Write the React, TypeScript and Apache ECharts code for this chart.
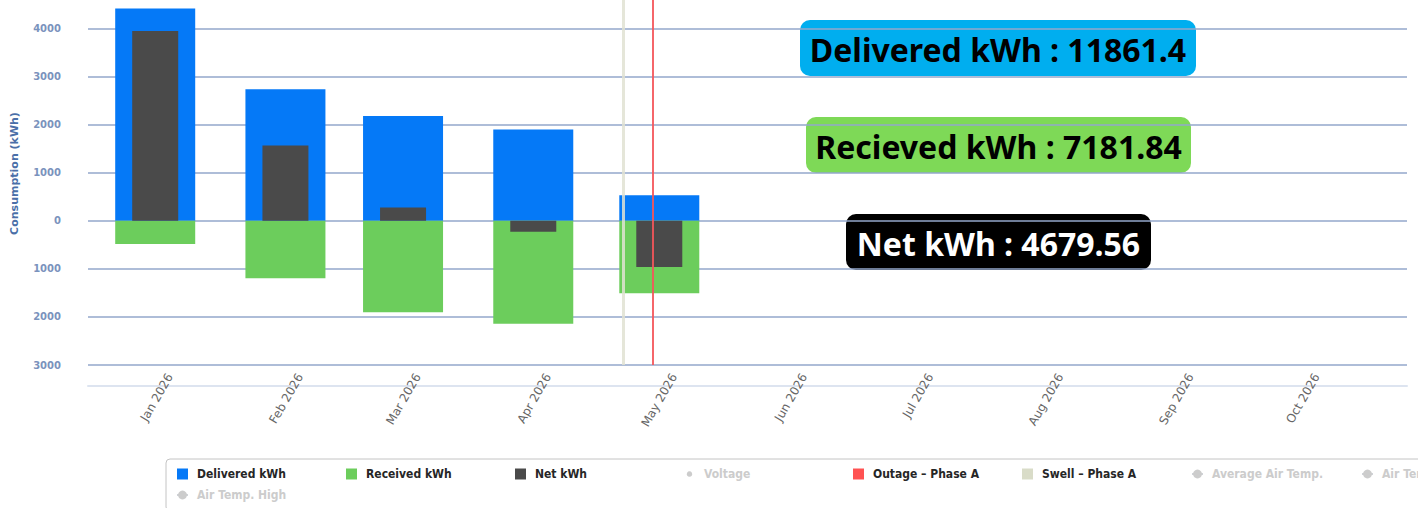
import React, { useEffect, useRef } from 'react';
import * as echarts from 'echarts';

// ---- data ----
const monthDates = ['2026-01-01', '2026-02-01', '2026-03-01', '2026-04-01', '2026-05-01'];
const deliveredKWh = [4413, 2732, 2178, 1896, 527];
const receivedKWh = [-483, -1197, -1902, -2143, -1506];
const netKWh = [3942, 1562, 276, -228, -961];

const outageDates = ['2026-04-29T08:00:00Z'];
const swellDates = ['2026-04-22T10:00:00Z'];

const xRange = ['2025-12-16', '2026-10-26'];
const DAY = 86400000;
const monthNames = ['Jan', 'Feb', 'Mar', 'Apr', 'May', 'Jun', 'Jul', 'Aug', 'Sep', 'Oct', 'Nov', 'Dec'];
const yMin = -3000;
const yMax = 4588;
const yInterval = 1000;

const legendNames = [
  'Delivered kWh',
  'Received kWh',
  'Net kWh',
  'Voltage',
  'Outage – Phase A',
  'Swell – Phase A',
  'Average Air Temp.',
  'Air Temp. Low',
  'Air Temp. High',
];
const hiddenSeries = ['Voltage', 'Average Air Temp.', 'Air Temp. Low', 'Air Temp. High'];

const summaryLabels = ['Delivered kWh', 'Recieved kWh', 'Net kWh'];
const summaryValues = ['11861.4', '7181.84', '4679.56'];

export default function App() {
  const ref = useRef<HTMLDivElement>(null);

  useEffect(() => {
    if (!ref.current) return;
    const chart = echarts.init(ref.current, null, { renderer: 'svg' });
    const t = (s: string) => new Date(s).getTime();

    const xMin = t(xRange[0]);
    const xMax = t(xRange[1]);

    const boxColors = ['#00aeef', '#7ed957', '#000000'];
    const textColors = ['#000000', '#000000', '#ffffff'];
    const boxRects = [
      { x: 800, y: 20, width: 396, height: 56 },
      { x: 806, y: 117, width: 385, height: 56 },
      { x: 846, y: 214, width: 305, height: 56 },
    ];

    const graphics = summaryLabels.map((lab, i) => ({
      type: 'group',
      silent: true,
      children: [
        {
          type: 'rect',
          shape: { ...boxRects[i], r: 10 },
          style: { fill: boxColors[i] },
        },
        {
          type: 'text',
          style: {
            text: `${lab} : ${summaryValues[i]}`,
            x: boxRects[i].x + boxRects[i].width / 2,
            y: boxRects[i].y + boxRects[i].height / 2 + 1,
            align: 'center',
            verticalAlign: 'middle',
            fontFamily: 'Noto Sans',
            fontWeight: 'bold',
            fontSize: 32,
            fill: textColors[i],
          },
        },
      ],
    }));

    const emptyLine = (name: string, color: string) => ({
      name,
      type: 'line',
      data: [],
      xAxisIndex: 0,
      color,
      symbol: 'circle',
    });

    const option: any = {
      animation: false,
      backgroundColor: '#ffffff',
      grid: { left: 88, right: 11, top: 0, bottom: 143, containLabel: false },
      xAxis: [
        {
          type: 'value',
          min: xMin,
          max: xMax,
          interval: DAY,
          position: 'bottom',
          scale: true,
          axisLine: { show: false, onZero: false },
          axisTick: { show: false },
          splitLine: { show: false },
          axisLabel: {
            rotate: 60,
            fontFamily: 'DejaVu Sans',
            fontSize: 12,
            color: '#666666',
            verticalAlign: 'top',
            lineHeight: 34,
            margin: 1,
            showMinLabel: false,
            showMaxLabel: false,
            formatter: (v: number) => {
              const d = new Date(v);
              return d.getUTCDate() === 1 ? `${monthNames[d.getUTCMonth()]} ${d.getUTCFullYear()}` : '';
            },
          },
        },
        {
          type: 'value',
          min: xMin,
          max: xMax,
          interval: DAY * 30,
          scale: true,
          position: 'bottom',
          offset: 21,
          axisLine: { show: true, onZero: false, lineStyle: { color: '#dde4f0', width: 2 } },
          axisTick: { show: false },
          axisLabel: { show: false },
          splitLine: { show: false },
        },
      ],
      yAxis: {
        type: 'value',
        min: yMin,
        max: yMax,
        interval: yInterval,
        name: 'Consumption (kWh)',
        nameLocation: 'middle',
        nameGap: 68,
        nameTextStyle: {
          fontFamily: 'DejaVu Sans',
          fontWeight: 'bold',
          fontSize: 11,
          color: '#4a6fa8',
          padding: [0, 0, 0, 18],
        },
        axisLine: { show: false },
        axisTick: { show: false },
        axisLabel: {
          margin: 27,
          fontFamily: 'DejaVu Sans',
          fontWeight: 'bold',
          fontSize: 10,
          color: '#7a93bd',
          showMaxLabel: false,
          formatter: (v: number) => String(Math.abs(v)),
        },
        splitLine: {
          show: true,
          showMaxLine: false,
          lineStyle: { color: '#93a7cb', width: 1.6 },
        },
      },
      legend: {
        left: 166,
        top: 459,
        width: 1400,
        orient: 'horizontal',
        padding: [9, 10, 10, 10],
        itemWidth: 11,
        itemHeight: 11,
        itemGap: 9,
        borderColor: '#c4c4c4',
        borderWidth: 1,
        borderRadius: 4,
        backgroundColor: '#ffffff',
        inactiveColor: '#cccccc',
        selected: Object.fromEntries(hiddenSeries.map((n) => [n, false])),
        textStyle: {
          fontFamily: "'DejaVu Sans Condensed', 'Liberation Sans', sans-serif",
          fontWeight: 'bold',
          fontSize: 12,
          color: '#262626',
          width: 140,
          lineHeight: 11,
          padding: [0, 0, 0, 4],
        },
        data: [
          { name: legendNames[0], icon: 'rect' },
          { name: legendNames[1], icon: 'rect' },
          { name: legendNames[2], icon: 'rect' },
          { name: legendNames[3], icon: 'path://M0,0M12,12M6,3A3,3,0,1,1,5.99,3Z' },
          { name: legendNames[4], icon: 'rect' },
          { name: legendNames[5], icon: 'rect' },
          { name: legendNames[6] },
          { name: legendNames[7] },
          { name: legendNames[8] },
        ],
      },
      series: [
        {
          name: legendNames[0],
          type: 'bar',
          xAxisIndex: 0,
          stack: 'dr',
          barWidth: 80,
          itemStyle: { color: '#0579f7' },
          data: monthDates.map((d, i) => [t(d), deliveredKWh[i]]),
        },
        {
          name: legendNames[1],
          type: 'bar',
          xAxisIndex: 0,
          stack: 'dr',
          barWidth: 80,
          itemStyle: { color: '#6ccd5c' },
          data: monthDates.map((d, i) => [t(d), receivedKWh[i]]),
        },
        {
          name: legendNames[2],
          type: 'bar',
          xAxisIndex: 1,
          barWidth: 46,
          itemStyle: { color: '#4a4a4a' },
          z: 3,
          data: monthDates.map((d, i) => [t(d), netKWh[i]]),
        },
        emptyLine(legendNames[3], '#aaaaaa'),
        {
          name: legendNames[4],
          type: 'line',
          data: [],
          xAxisIndex: 0,
          color: '#ff5252',
          z: 4,
          markLine: {
            silent: true,
            symbol: ['none', 'none'],
            label: { show: false },
            lineStyle: { color: '#f4555a', width: 2, type: 'solid', opacity: 0.9 },
            data: outageDates.map((d) => ({ xAxis: t(d) })),
          },
        },
        {
          name: legendNames[5],
          type: 'line',
          data: [],
          xAxisIndex: 0,
          color: '#d9dcc8',
          z: 4,
          markLine: {
            silent: true,
            symbol: ['none', 'none'],
            label: { show: false },
            lineStyle: { color: '#e0e2d2', width: 3, type: 'solid', opacity: 0.85 },
            data: swellDates.map((d) => ({ xAxis: t(d) })),
          },
        },
        emptyLine(legendNames[6], '#aaaaaa'),
        emptyLine(legendNames[7], '#aaaaaa'),
        emptyLine(legendNames[8], '#aaaaaa'),
      ],
      graphic: graphics,
    };

    chart.setOption(option);
    return () => chart.dispose();
  }, []);

  return (
    <div
      ref={ref}
      style={{ position: 'fixed', left: 0, top: 0, width: 1418, height: 508, overflow: 'hidden' }}
    />
  );
}
